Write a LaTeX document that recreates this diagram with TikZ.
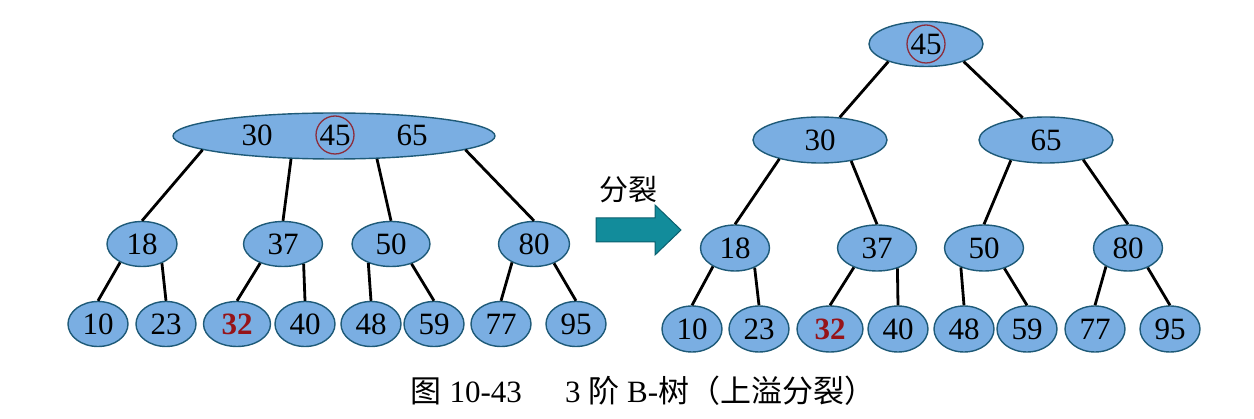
\documentclass[tikz,border=0pt]{standalone}
\usepackage{fontspec}
\setmainfont{Liberation Serif}
\newfontfamily\cjk{Noto Sans CJK SC}
\usetikzlibrary{shapes.geometric}
\definecolor{keyfill}{RGB}{122,174,226}
\definecolor{keyline}{RGB}{30,90,120}
\definecolor{hotkey}{RGB}{150,20,25}
\definecolor{ringcol}{RGB}{140,45,60}
\definecolor{arrowcol}{RGB}{18,140,155}
\definecolor{arrowdark}{RGB}{10,95,110}
\tikzset{
    num/.style={font=\fontsize{31}{32}\selectfont, inner sep=0pt},
    bkey/.style={num, draw=keyline, fill=keyfill, ellipse, line width=1.4pt, minimum width=60, minimum height=45},
    ring/.style={num, draw=ringcol, circle, line width=1.3pt, minimum size=38},
    link/.style={line width=2.8pt}
}
\begin{document}
\begin{tikzpicture}[x=1pt,y=-1pt]
    \useasboundingbox (0,0) rectangle (1254,419);
    % Left tree: root with three keys
    \node[bkey, minimum width=322, minimum height=46] (aroot) at (334,136) {};
    \node[num] (a30) at (257,135) {30};
    \node[ring] (a45) at (335,135) {45};
    \node[num] (a65) at (412,135) {65};
    % Left tree: middle level
    \foreach \v/\x/\w in {18/142/70, 37/283/79, 50/391/78, 80/534/71} {
        \node[bkey, minimum width=\w] (a\v) at (\x,244) {\v};
    }
    % Left tree: leaves
    \foreach \v/\x in {10/98, 23/166, 40/305, 48/371, 59/434, 77/501, 95/576} {
        \node[bkey] (a\v) at (\x,324) {\v};
    }
    \node[bkey, minimum width=67, text=hotkey, font=\fontsize{31}{32}\selectfont\bfseries] (a32) at (237,324) {32};
    % Left tree: links
    \foreach \p/\ang/\c in {aroot/186/a18, aroot/208/a37, aroot/332/a50, aroot/354/a80,
                           a18/220/a10, a18/316/a23, a37/220/a32, a37/316/a40,
                           a50/220/a48, a50/316/a59, a80/220/a77, a80/316/a95} {
        \draw[link] (\p.\ang) -- (\c.north);
    }
    % Split arrow
    \draw[draw=arrowdark, fill=arrowcol, line width=1pt]
        (596,218) -- (655,218) -- (655,205) -- (681,230) -- (655,255) -- (655,242) -- (596,242) -- cycle;
    \node[font=\cjk\fontsize{29}{30}\selectfont] (splitlabel) at (628,190) {分裂};
    % Right tree: upper levels
    \node[bkey, minimum width=114] (broot) at (926,44) {};
    \node[ring] (b45) at (926,44) {45};
    \node[bkey, minimum width=134, minimum height=46] (b30) at (820,140) {30};
    \node[bkey, minimum width=134, minimum height=46] (b65) at (1046,140) {65};
    \draw[link] (broot.205) -- (b30);
    \draw[link] (broot.335) -- (b65);
    % Right tree: middle level
    \foreach \v/\x/\w in {18/735/69, 37/877/79, 50/984/79, 80/1128/69} {
        \node[bkey, minimum width=\w, minimum height=46] (b\v) at (\x,248) {\v};
    }
    % Right tree: leaves
    \foreach \v/\x in {10/692, 23/759, 40/898, 48/964, 59/1027, 77/1095, 95/1170} {
        \node[bkey, minimum height=46] (b\v) at (\x,329) {\v};
    }
    \node[bkey, minimum width=66, minimum height=46, text=hotkey, font=\fontsize{31}{32}\selectfont\bfseries] (b32) at (830,329) {32};
    % Right tree: links
    \foreach \p/\ang/\c in {b30/205/b18, b30/326/b37, b65/210/b50, b65/332/b80,
                           b18/220/b10, b18/315/b23, b37/220/b32, b37/315/b40,
                           b50/220/b48, b50/315/b59, b80/220/b77, b80/315/b95} {
        \draw[link] (\p.\ang) -- (\c.north);
    }
    % Caption
    \node[font=\fontsize{31}{32}\selectfont] (caption) at (643,391)
        {{\cjk 图} 10-43\hspace{1.4em}3 {\cjk 阶} B-{\cjk 树（上溢分裂）}};
\end{tikzpicture}
\end{document}
